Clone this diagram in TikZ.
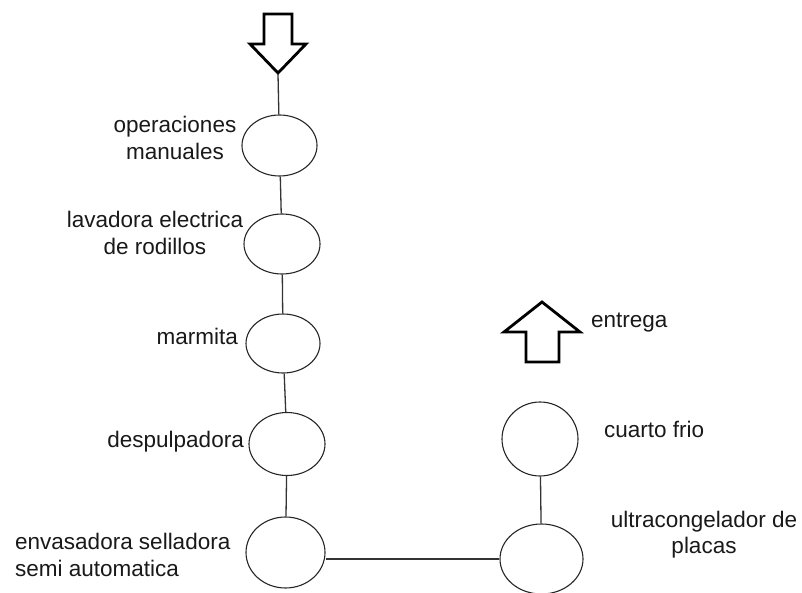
\documentclass[tikz,border=0pt]{standalone}
\usepackage{fontspec}
\setmainfont{Liberation Sans}
\usetikzlibrary{shapes.geometric}
\begin{document}
\begin{tikzpicture}[x=1pt,y=-1pt,
  proc/.style={draw=black!85, line width=1.1pt, ellipse, inner sep=0pt, fill=white},
  conn/.style={draw=black!80, line width=1.3pt},
  bigarrow/.style={draw=black, line width=2.8pt, line join=miter, fill=white},
  lbl/.style={inner sep=0pt, font=\fontsize{22.5}{27}\selectfont, text=black!90}]
\useasboundingbox (0,0) rectangle (802,593);

% process ellipses
\node[proc, minimum width=75pt, minimum height=61pt] (e1) at (279.5,145.5) {};
\node[proc, minimum width=76pt, minimum height=60pt] (e2) at (282,244) {};
\node[proc, minimum width=74pt, minimum height=59pt] (e3) at (283,343.5) {};
\node[proc, minimum width=76pt, minimum height=63pt] (e4) at (287,444) {};
\node[proc, minimum width=79pt, minimum height=71pt] (e5) at (285.5,552.5) {};
\node[proc, minimum width=76pt, minimum height=74pt] (e6) at (540,439) {};
\node[proc, minimum width=83pt, minimum height=70pt] (e7) at (541.5,559) {};

% big arrows
\draw[bigarrow] (264,14) -- (292,14) -- (292,44) -- (306,44) -- (278,73) -- (250,44) -- (264,44) -- cycle;
\coordinate (tipdown) at (278,74);
\draw[bigarrow] (526,362) -- (559,362) -- (559,332) -- (580,332) -- (542,302) -- (504,332) -- (526,332) -- cycle;

% connectors
\draw[conn] (tipdown) -- (e1);
\draw[conn] (e1) -- (e2);
\draw[conn] (e2) -- (e3);
\draw[conn] (e3) -- (e4);
\draw[conn] (e4) -- (e5);
\draw[conn] (e6) -- (e7);
\draw[conn] (e7.west -| e5.east) -- (e7.west);

% labels
\node[lbl, align=center, anchor=north] (t1) at (175,116) {operaciones\\manuales};
\node[lbl, align=center, anchor=north, font=\fontsize{22.5}{26.5}\selectfont] (t2) at (155,211) {lavadora electrica\\de rodillos};
\node[lbl, anchor=base east] (t3) at (238,344) {marmita};
\node[lbl, anchor=base east] (t4) at (244,447) {despulpadora};
\node[lbl, align=left, anchor=north west] (t5) at (15,533) {envasadora selladora\\semi automatica};
\node[lbl, anchor=base west] (t6) at (591,327) {entrega};
\node[lbl, anchor=base west] (t7) at (604,437) {cuarto frio};
\node[lbl, align=center, anchor=north, font=\fontsize{22.5}{25.5}\selectfont] (t8) at (704,511) {ultracongelador de\\placas};
\end{tikzpicture}
\end{document}
